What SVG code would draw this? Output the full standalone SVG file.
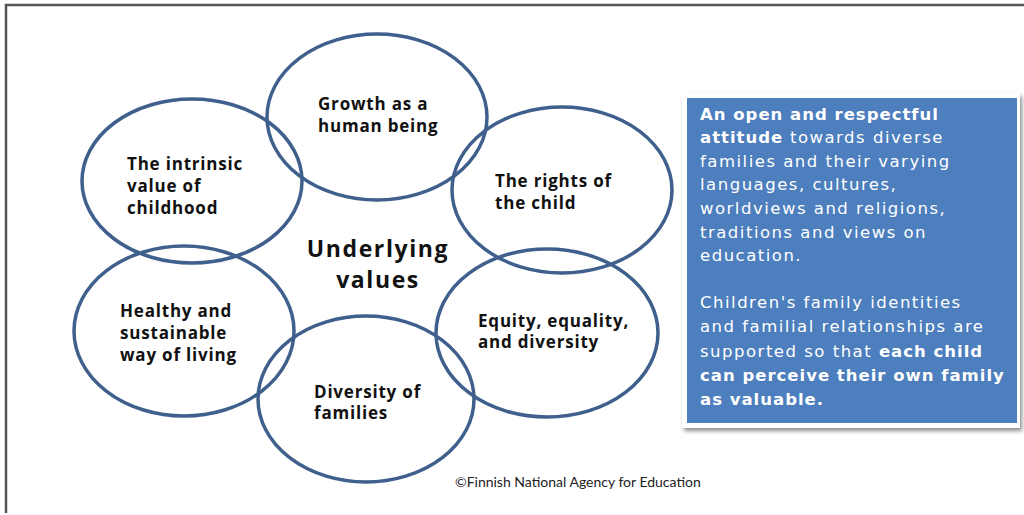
<svg xmlns="http://www.w3.org/2000/svg" width="1024" height="515" viewBox="0 0 1024 515">
<defs>
<filter id="sh" x="-5%" y="-5%" width="115%" height="115%">
<feGaussianBlur in="SourceAlpha" stdDeviation="2"/>
<feOffset dx="2" dy="3" result="b"/>
<feComponentTransfer><feFuncA type="linear" slope="0.45"/></feComponentTransfer>
<feMerge><feMergeNode/><feMergeNode in="SourceGraphic"/></feMerge>
</filter>
</defs>
<style>
.ring{fill:none;stroke:#3f5f8c;stroke-width:3.5}
.lbl{font-family:"Open Sans","Liberation Sans",sans-serif;font-weight:bold;font-size:17px;fill:#111;letter-spacing:0.8px}
.title{font-family:"Open Sans","Liberation Sans",sans-serif;font-weight:bold;font-size:23px;fill:#111;letter-spacing:1.6px}
.box{font-family:"DejaVu Sans",Verdana,sans-serif;font-size:16.5px;fill:#fff;letter-spacing:1.5px}
.b{font-weight:bold;letter-spacing:1px}
.copy{font-family:Lato,"Liberation Sans",sans-serif;font-size:14px;fill:#222}
</style>
<rect width="1024" height="515" fill="#fff"/>
<path d="M6,513 V5 H1024" fill="none" stroke="#555" stroke-width="2.5"/>
<g id="connectors"></g>
<g id="node-growth">
<ellipse class="ring" cx="377" cy="117" rx="110" ry="83"/>
<text class="lbl" x="318" y="110">Growth as a</text>
<text class="lbl" x="318" y="132">human being</text>
</g>
<g id="node-intrinsic">
<ellipse class="ring" cx="192" cy="181" rx="110" ry="82"/>
<text class="lbl" x="127" y="170">The intrinsic</text>
<text class="lbl" x="127" y="192">value of</text>
<text class="lbl" x="127" y="214">childhood</text>
</g>
<g id="node-rights">
<ellipse class="ring" cx="562" cy="190" rx="110" ry="83"/>
<text class="lbl" x="495" y="187">The rights of</text>
<text class="lbl" x="495" y="209">the child</text>
</g>
<g id="node-healthy">
<ellipse class="ring" cx="184" cy="331" rx="110" ry="85"/>
<text class="lbl" x="120" y="317">Healthy and</text>
<text class="lbl" x="120" y="339">sustainable</text>
<text class="lbl" x="120" y="361">way of living</text>
</g>
<g id="node-diversity">
<ellipse class="ring" cx="366" cy="399" rx="108" ry="83"/>
<text class="lbl" x="314" y="398">Diversity of</text>
<text class="lbl" x="314" y="419">families</text>
</g>
<g id="node-equity">
<ellipse class="ring" cx="547" cy="333" rx="111" ry="84"/>
<text class="lbl" x="478" y="327">Equity, equality,</text>
<text class="lbl" x="478" y="348">and diversity</text>
</g>
<g id="node-center">
<text class="title" x="378" y="257" text-anchor="middle">Underlying</text>
<text class="title" x="378" y="288" text-anchor="middle">values</text>
</g>
<g id="node-box">
<rect x="682" y="93" width="338" height="335" fill="#fff" filter="url(#sh)"/>
<rect x="687" y="98" width="330" height="325" fill="#4d7ebd"/>
<text class="box" x="700" y="120"><tspan class="b">An open and respectful</tspan></text>
<text class="box" x="700" y="143"><tspan class="b">attitude</tspan> towards diverse</text>
<text class="box" x="700" y="167">families and their varying</text>
<text class="box" x="700" y="190">languages, cultures,</text>
<text class="box" x="700" y="214">worldviews  and religions,</text>
<text class="box" x="700" y="238">traditions and views on</text>
<text class="box" x="700" y="261">education.</text>
<text class="box" x="700" y="308">Children's family identities</text>
<text class="box" x="700" y="332">and familial relationships are</text>
<text class="box" x="700" y="357">supported  so that <tspan class="b">each child</tspan></text>
<text class="box" x="700" y="381"><tspan class="b">can perceive their own family</tspan></text>
<text class="box" x="700" y="405"><tspan class="b">as valuable.</tspan></text>
</g>
<g id="node-copyright">
<text class="copy" x="455" y="487">©Finnish National Agency for Education</text>
</g>
</svg>
